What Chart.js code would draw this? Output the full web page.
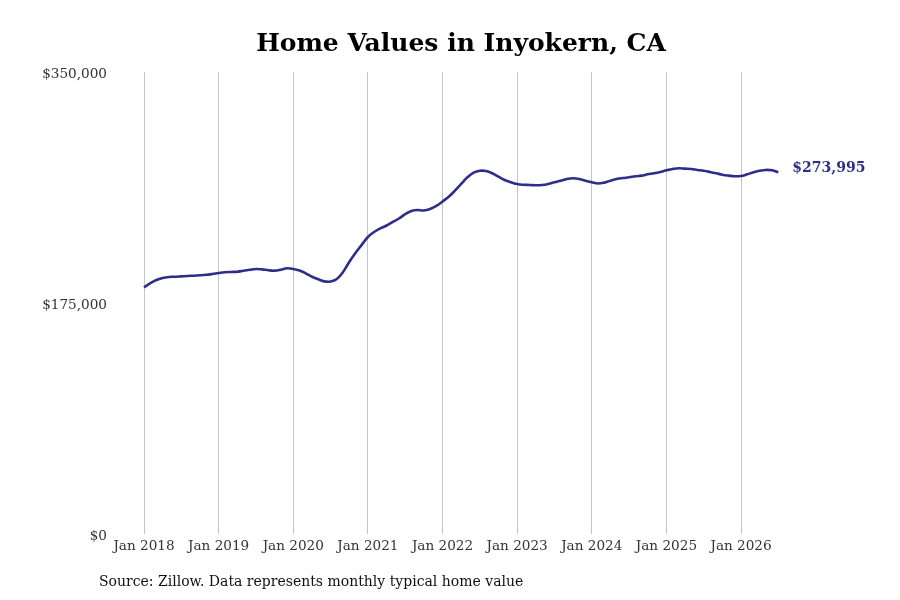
<!DOCTYPE html>
<html>
<head>
<meta charset="utf-8">
<script src="https://cdn.jsdelivr.net/npm/chart.js@4.4.1/dist/chart.umd.min.js"></script>
<style>
    html, body { margin: 0; padding: 0; background: #fff; }
    #wrap { position: relative; width: 900px; height: 600px; }
    #title {
        position: absolute; left: 22px; top: 28px; width: 878px;
        text-align: center; font: bold 25px 'DejaVu Serif'; color: #000;
    }
    #source {
        position: absolute; left: 99px; top: 573px;
        font: 14px 'DejaVu Serif'; color: #111;
    }
    canvas { position: absolute; left: 0; top: 0; }
</style>
</head>
<body>
<div id="wrap">
    <canvas id="lineChart" width="900" height="600"></canvas>
    <div id="title">Home Values in Inyokern, CA</div>
    <div id="source">Source: Zillow. Data represents monthly typical home value</div>
</div>
<script>
// 月次データ（2018年1月〜2026年7月）
const startYear = 2018;
const yearLabels = ['Jan 2018', 'Jan 2019', 'Jan 2020', 'Jan 2021', 'Jan 2022', 'Jan 2023', 'Jan 2024', 'Jan 2025', 'Jan 2026'];
const yTicks = [0, 175000, 350000];
const homeValues = [
    // 2018
    186900, 189900, 192400, 193900, 194700, 194900, 195200, 195500, 195700, 196000, 196400, 197000,
    // 2019
    197700, 198300, 198500, 198700, 199500, 200200, 200800, 200500, 199800, 199500, 200200, 201300,
    // 2020
    200800, 199600, 197500, 194900, 193000, 191400, 191300, 193200, 198500, 206100, 212900, 219000,
    // 2021
    225000, 228800, 231500, 233700, 236400, 239000, 242400, 244700, 245500, 245100, 246200, 248500,
    // 2022
    251900, 255500, 260100, 265200, 270200, 273700, 275200, 275000, 273300, 270700, 268200, 266500,
    // 2023
    265200, 264600, 264400, 264200, 264400, 265200, 266500, 267700, 269000, 269500, 269000, 267700,
    // 2024
    266500, 265500, 266200, 267700, 269000, 269700, 270200, 271000, 271500, 272500, 273300, 274300,
    // 2025
    275500, 276500, 277100, 276800, 276500, 275800, 275200, 274300, 273300, 272200, 271500, 271000,
    // 2026
    271200, 272500, 274000, 275200, 275800, 275500, 273995
];

const lineColor = '#2e2e88';
const canvas = document.getElementById('lineChart');
const ctx = canvas.getContext('2d');

/**
 * 最終値ラベルを描画
 */
const lastValueLabel = {
    id: 'lastValueLabel',
    afterDatasetsDraw(chart) {
        const { ctx } = chart;
        const meta = chart.getDatasetMeta(0);
        const last = meta.data[meta.data.length - 1];
        const value = homeValues[homeValues.length - 1];
        ctx.save();
        ctx.font = 'bold 14px "DejaVu Serif"';
        ctx.fillStyle = lineColor;
        ctx.textAlign = 'left';
        ctx.textBaseline = 'middle';
        ctx.fillText('$' + value.toLocaleString('en-US'), last.x + 14, last.y - 4);
        ctx.restore();
    }
};

function createLineChart() {
    const points = homeValues.map((v, i) => ({ x: i, y: v }));

    new Chart(ctx, {
        type: 'line',
        data: {
            datasets: [{
                data: points,
                borderColor: lineColor,
                borderWidth: 2.6,
                pointRadius: 0,
                tension: 0.4,
                fill: false
            }]
        },
        options: {
            responsive: false,
            animation: false,
            layout: { padding: { top: 72, right: 100, bottom: 46, left: 0 } },
            plugins: {
                legend: { display: false },
                tooltip: { enabled: false }
            },
            scales: {
                x: {
                    type: 'linear',
                    min: -4.663,
                    max: 105.48,
                    afterBuildTicks(scale) {
                        scale.ticks = yearLabels.map((_, i) => ({ value: i * 12 }));
                    },
                    afterFit(scale) { scale.height = 20; },
                    ticks: {
                        autoSkip: false,
                        maxRotation: 0,
                        padding: 4,
                        color: '#333',
                        font: { family: 'DejaVu Serif', size: 13.6 },
                        callback: (value) => yearLabels[Math.round(value / 12)]
                    },
                    grid: { color: '#c4c4c4', lineWidth: 1, drawTicks: false },
                    border: { display: false }
                },
                y: {
                    min: 0,
                    max: 350000,
                    afterBuildTicks(scale) {
                        scale.ticks = yTicks.map(v => ({ value: v }));
                    },
                    afterFit(scale) { scale.width = 115; },
                    ticks: {
                        padding: 8,
                        labelOffset: 2,
                        color: '#333',
                        font: { family: 'DejaVu Serif', size: 13.6 },
                        callback: (value) => '$' + value.toLocaleString('en-US')
                    },
                    grid: { display: false, drawTicks: false },
                    border: { display: false }
                }
            }
        },
        plugins: [lastValueLabel]
    });
}

createLineChart();
</script>
</body>
</html>
